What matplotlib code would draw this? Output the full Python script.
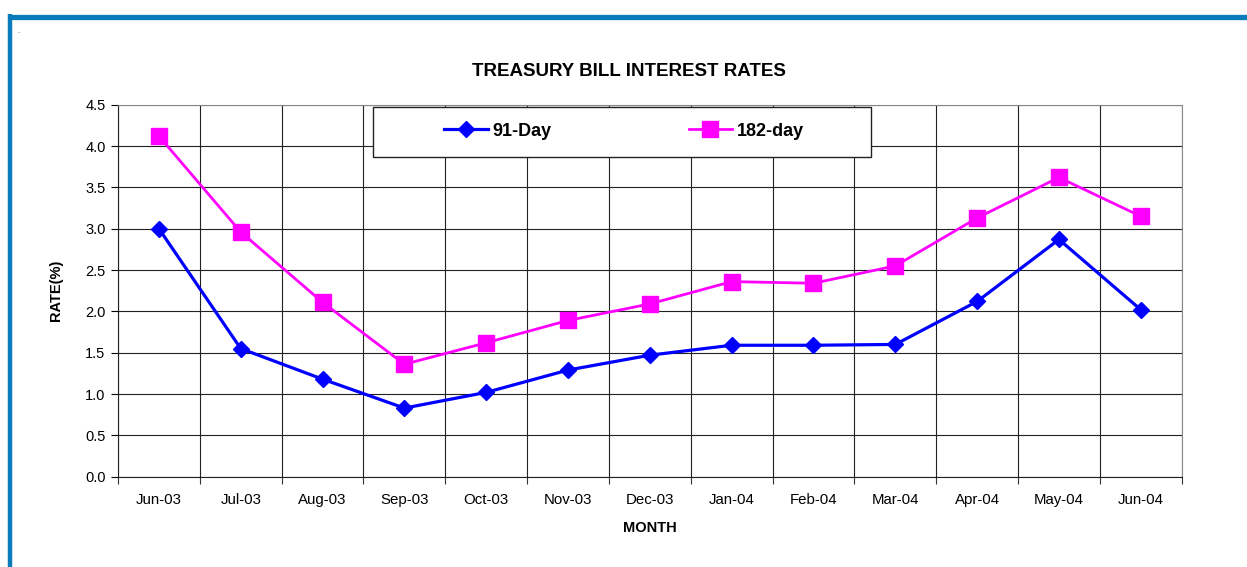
import matplotlib.pyplot as plt
from matplotlib.lines import Line2D
from matplotlib.patches import Rectangle
import numpy as np

plt.rcParams['font.family'] = ['Liberation Sans', 'DejaVu Sans']

months = ["Jun-03", "Jul-03", "Aug-03", "Sep-03", "Oct-03", "Nov-03", "Dec-03",
          "Jan-04", "Feb-04", "Mar-04", "Apr-04", "May-04", "Jun-04"]
day91 = [3.00, 1.55, 1.18, 0.83, 1.02, 1.29, 1.47, 1.59, 1.59, 1.60, 2.12, 2.87, 2.02]
day182 = [4.12, 2.96, 2.11, 1.36, 1.62, 1.89, 2.09, 2.36, 2.34, 2.55, 3.13, 3.62, 3.15]

W, H = 1247, 567
fig = plt.figure(figsize=(W / 100, H / 100), dpi=100)
ax = fig.add_axes([118 / W, 1 - 476.7 / H, (1181.7 - 118) / W, (476.7 - 104.7) / H])

x = np.arange(len(months))
ax.plot(x, day91, color='#0000ff', lw=2.3, marker='D', ms=8, label='91-Day', zorder=3)
ax.plot(x, day182, color='#ff00ff', lw=2.0, marker='s', ms=11, label='182-day', zorder=3)

ax.set_xlim(-0.5, len(months) - 0.5)
ax.set_ylim(0, 4.5)
ax.set_yticks(np.arange(0, 4.51, 0.5))
ax.set_yticklabels([f"{v:.1f}" for v in np.arange(0, 4.51, 0.5)], fontsize=10.5)
ax.set_xticks(x)
ax.set_xticklabels(months, fontsize=10.8)
ax.set_xticks(np.arange(-0.5, len(months)), minor=True)
ax.tick_params(axis='x', which='major', length=0, pad=12)
ax.tick_params(axis='x', which='minor', length=5, width=0.8, color='#333333')
ax.tick_params(axis='y', length=5, width=0.8, pad=4)
ax.grid(True, which='minor', axis='x', color='#222222', lw=0.8)
ax.grid(True, which='major', axis='y', color='#222222', lw=0.8)
ax.set_axisbelow(True)
for s in ['top', 'right']:
    ax.spines[s].set_color('#888888')
for s in ['left', 'bottom']:
    ax.spines[s].set_color('#222222')

ax.set_ylabel('RATE(%)', fontsize=10.5, fontweight='bold', labelpad=16)
ax.set_xlabel('MONTH', fontsize=10.5, fontweight='bold', labelpad=10)
fig.text(629 / W, 1 - 71 / H, 'TREASURY BILL INTEREST RATES', ha='center', va='center',
         fontsize=13.5, fontweight='bold')

# legend box drawn by hand, entries placed without frame
fig.add_artist(Rectangle((373 / W, 1 - 157 / H), (871 - 373) / W, 50 / H,
                         transform=fig.transFigure, facecolor='white',
                         edgecolor='#222222', lw=1.0, zorder=4))
leg = fig.legend(loc='center', bbox_to_anchor=(624 / W, 1 - 131 / H), ncol=2,
                 prop={'weight': 'bold', 'size': 13},
                 frameon=False, columnspacing=7.6, handlelength=2.4,
                 handletextpad=0.25, borderaxespad=0)
leg.set_zorder(5)

# blue frame around the sheet
fig.add_artist(Line2D([8 / W, 1], [1 - 16.5 / H, 1 - 16.5 / H], transform=fig.transFigure,
                      color='#0a7bbb', lw=3.8, solid_capstyle='butt'))
fig.add_artist(Line2D([10 / W, 10 / W], [0, 1 - 14 / H], transform=fig.transFigure,
                      color='#0a7bbb', lw=3.2, solid_capstyle='butt'))
fig.text(17 / W, 1 - 33 / H, '.', fontsize=6, color='#555555')

fig.savefig('out.png', dpi=100)
